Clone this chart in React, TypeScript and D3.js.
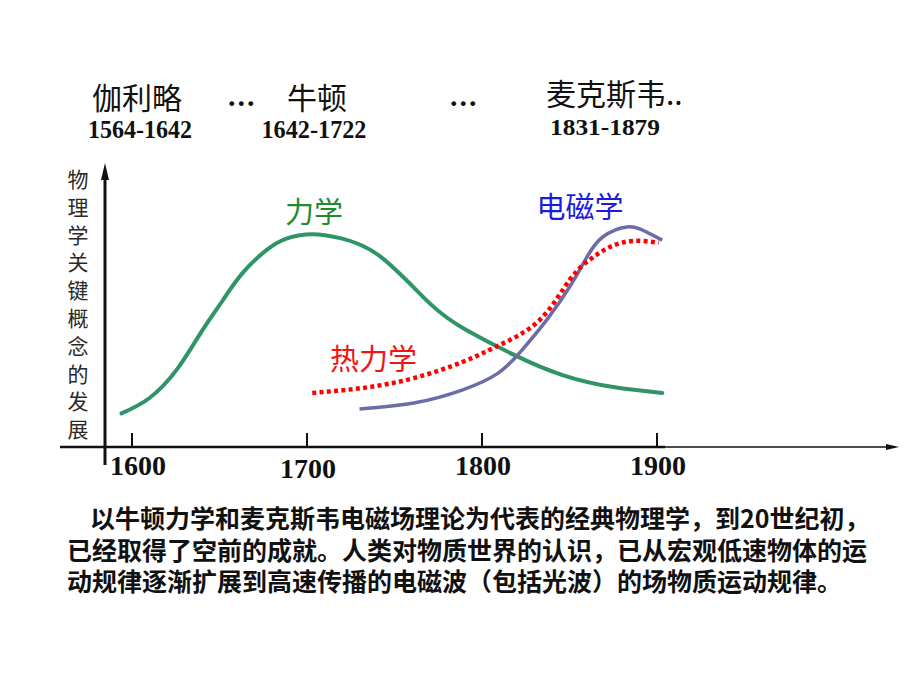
import React, { useEffect, useRef } from 'react';
import * as d3 from 'd3';

// x axis ticks
const tickYears = [1600, 1700, 1800, 1900];

// 力学
const mechYears = [1594, 1610, 1626, 1639, 1652, 1663, 1677, 1689, 1703, 1719, 1742, 1770, 1791, 1818, 1846, 1875, 1903];
const mechValues = [12, 17.5, 28, 40.5, 52.5, 62, 70.4, 74.6, 76, 74.6, 68, 51.4, 41.8, 33, 25.7, 21.4, 19.3];

// 热力学
const thermoYears = [1703, 1732, 1761, 1789, 1810, 1833, 1850, 1862, 1873, 1886, 1901];
const thermoValues = [19.3, 21.1, 24.6, 30.4, 36.4, 45.4, 59.6, 67.1, 71.4, 73.6, 72.9];

// 电磁学
const emYears = [1730, 1761, 1789, 1809, 1822, 1837, 1850, 1860, 1869, 1883, 1894, 1903];
const emValues = [13.6, 15.7, 20.4, 26.3, 34, 45.4, 57.1, 67.9, 75, 78.6, 76.8, 73.9];

const curveNames = ['力学', '热力学', '电磁学'];
const curveLabelYears = [1704, 1738, 1856];
const curveLabelValues = [84.6, 32.1, 86.4];

const yAxisTitle = '物理学关键概念的发展';

const scientists = ['伽利略', '牛顿', '麦克斯韦..'];
const lifespans = ['1564-1642', '1642-1722', '1831-1879'];

const paragraph = [
  '以牛顿力学和麦克斯韦电磁场理论为代表的经典物理学，到20世纪初，',
  '已经取得了空前的成就。人类对物质世界的认识，已从宏观低速物体的运',
  '动规律逐渐扩展到高速传播的电磁波（包括光波）的场物质运动规律。',
];

const W = 920;
const H = 690;
const CJK = '"Noto Sans CJK SC", "Noto Sans", sans-serif';
const SERIF = '"Liberation Serif", "Times New Roman", serif';

const App: React.FC = () => {
  const svgRef = useRef<SVGSVGElement>(null);

  useEffect(() => {
    if (!svgRef.current) return;
    const svg = d3.select(svgRef.current);
    svg.selectAll('*').remove();

    const x = d3.scaleLinear().domain([1600, 1900]).range([132, 657]);
    const y = d3.scaleLinear().domain([0, 100]).range([447, 167]);

    svg.append('rect').attr('width', W).attr('height', H).attr('fill', '#fff');

    // header: scientists and years
    const nameX = [137, 317, 546];
    const nameY = [96, 96, 92];
    scientists.forEach((s, i) => {
      svg.append('text')
        .attr('x', nameX[i])
        .attr('y', nameY[i])
        .attr('text-anchor', i === 2 ? 'start' : 'middle')
        .attr('dominant-baseline', 'central')
        .attr('font-family', CJK)
        .attr('font-size', 30)
        .attr('fill', '#111')
        .text(s);
    });
    [228, 450].forEach(px => {
      svg.append('text')
        .attr('x', px)
        .attr('y', 106)
        .attr('font-family', SERIF)
        .attr('font-weight', 'bold')
        .attr('font-size', 30)
        .attr('letter-spacing', 2)
        .attr('fill', '#111')
        .text('...');
    });
    const lifeX = [140, 314, 605];
    const lifeY = [138, 138, 135];
    const lifeW = [104, 105, 110];
    lifespans.forEach((s, i) => {
      svg.append('text')
        .attr('x', lifeX[i])
        .attr('y', lifeY[i])
        .attr('text-anchor', 'middle')
        .attr('font-family', SERIF)
        .attr('font-weight', 'bold')
        .attr('font-size', i === 2 ? 24 : 26)
        .attr('textLength', lifeW[i])
        .attr('lengthAdjust', 'spacingAndGlyphs')
        .attr('fill', '#111')
        .text(s);
    });

    // y axis title (vertical characters)
    Array.from(yAxisTitle).forEach((c, i) => {
      svg.append('text')
        .attr('x', 78)
        .attr('y', 178 + i * 27.8)
        .attr('text-anchor', 'middle')
        .attr('dominant-baseline', 'central')
        .attr('font-family', CJK)
        .attr('font-size', 21)
        .attr('fill', '#2a2a2a')
        .text(c);
    });

    // axes
    svg.append('line')
      .attr('x1', 60).attr('x2', x(1900) + 8)
      .attr('y1', y(0)).attr('y2', y(0))
      .attr('stroke', '#111').attr('stroke-width', 2.5);
    svg.append('line')
      .attr('x1', x(1900)).attr('x2', 895)
      .attr('y1', y(0)).attr('y2', y(0))
      .attr('stroke', '#111').attr('stroke-width', 1.5);
    svg.append('path')
      .attr('d', `M899,${y(0)} L886,${y(0) - 3} L886,${y(0) + 3} Z`)
      .attr('fill', '#111');

    svg.append('line')
      .attr('x1', 105).attr('x2', 105)
      .attr('y1', 465).attr('y2', 175)
      .attr('stroke', '#111').attr('stroke-width', 3);
    svg.append('path')
      .attr('d', 'M105,163 L101,180 L109,180 Z')
      .attr('fill', '#111');

    tickYears.forEach((t, i) => {
      svg.append('line')
        .attr('x1', x(t)).attr('x2', x(t))
        .attr('y1', y(0) - 14).attr('y2', y(0))
        .attr('stroke', '#111').attr('stroke-width', 2);
      svg.append('text')
        .attr('x', x(t) + (i === 0 ? 6 : 1))
        .attr('y', i === 1 ? 478 : 475)
        .attr('text-anchor', 'middle')
        .attr('font-family', SERIF)
        .attr('font-weight', 'bold')
        .attr('font-size', 28)
        .attr('fill', '#111')
        .text(String(t));
    });

    // curves
    const line = d3.line<[number, number]>()
      .x(d => x(d[0]))
      .y(d => y(d[1]))
      .curve(d3.curveNatural);

    const zip = (a: number[], b: number[]) => a.map((v, i) => [v, b[i]] as [number, number]);

    svg.append('path')
      .datum(zip(mechYears, mechValues))
      .attr('fill', 'none')
      .attr('stroke', '#2f9466')
      .attr('stroke-width', 4)
      .attr('stroke-linecap', 'round')
      .attr('d', line);

    svg.append('path')
      .datum(zip(emYears, emValues))
      .attr('fill', 'none')
      .attr('stroke', '#6c6ca6')
      .attr('stroke-width', 3.5)
      .attr('d', line);

    svg.append('path')
      .datum(zip(thermoYears, thermoValues))
      .attr('fill', 'none')
      .attr('stroke', '#f00')
      .attr('stroke-width', 4.5)
      .attr('stroke-dasharray', '4 3.3')
      .attr('d', line);

    const labelColors = ['#1f8a30', '#f01414', '#1a1ae0'];
    curveNames.forEach((n, i) => {
      svg.append('text')
        .attr('x', x(curveLabelYears[i]))
        .attr('y', y(curveLabelValues[i]))
        .attr('text-anchor', 'middle')
        .attr('dominant-baseline', 'central')
        .attr('font-family', CJK)
        .attr('font-size', 29)
        .attr('fill', labelColors[i])
        .text(n);
    });

    // paragraph
    const paraX = [90, 67, 67];
    paragraph.forEach((s, i) => {
      svg.append('text')
        .attr('x', paraX[i])
        .attr('y', 517 + i * 31.5)
        .attr('dominant-baseline', 'central')
        .attr('font-family', CJK)
        .attr('font-weight', 'bold')
        .attr('font-size', 25)
        .attr('fill', '#111')
        .text(s);
    });
  }, []);

  return (
    <svg
      ref={svgRef}
      width={W}
      height={H}
      style={{ position: 'absolute', left: 0, top: 0, display: 'block' }}
    />
  );
};

export default App;
